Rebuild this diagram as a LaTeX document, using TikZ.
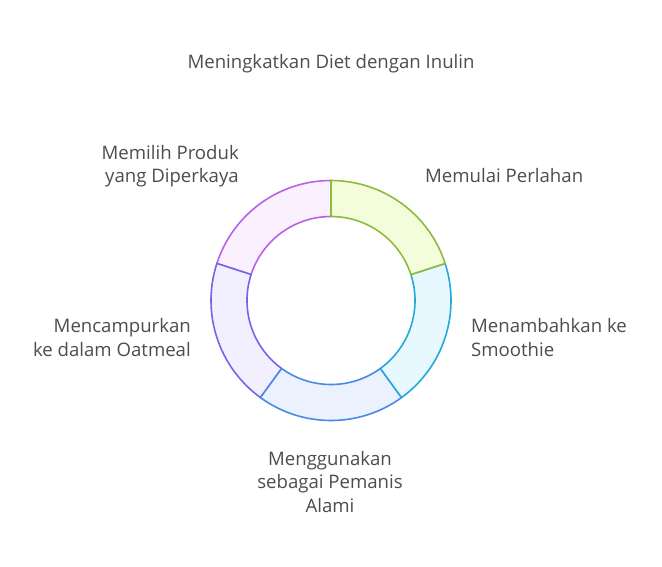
\documentclass[tikz,border=0pt]{standalone}
\usepackage{fontspec}
\setmainfont{Open Sans}
\usepackage{tikz}
\usepackage{xcolor}
\usetikzlibrary{positioning}

\definecolor{textgrey}{HTML}{4D4D4D}
\definecolor{green-d}{HTML}{8DBB3C}
\definecolor{green-l}{HTML}{F3FDDC}
\definecolor{cyan-d}{HTML}{26A9DA}
\definecolor{cyan-l}{HTML}{E7F8FE}
\definecolor{blue-d}{HTML}{4C88E8}
\definecolor{blue-l}{HTML}{EBF2FE}
\definecolor{indigo-d}{HTML}{7B63E8}
\definecolor{indigo-l}{HTML}{F2F0FE}
\definecolor{purple-d}{HTML}{B862EA}
\definecolor{purple-l}{HTML}{FBF0FE}

\begin{document}
\begin{tikzpicture}
[
x=1pt, y=1pt,
seg-a/.style={line width=1.6pt, line join=round},
text-a/.style={text=textgrey, font=\fontsize{18.6}{23.5}\selectfont, inner sep=0pt}
]
\useasboundingbox[fill=white] (0,0) rectangle (662,-566);
\coordinate (ring) at (331,-300.5);

% ring segments, drawn so that each boundary keeps the later colour
\draw[seg-a, draw=purple-d, fill=purple-l] ([shift={(162:120pt)}]ring) arc[start angle=162, end angle=90, radius=120pt]
  -- ([shift={(90:84pt)}]ring) arc[start angle=90, end angle=162, radius=84pt] -- cycle;
\draw[seg-a, draw=indigo-d, fill=indigo-l] ([shift={(234:120pt)}]ring) arc[start angle=234, end angle=162, radius=120pt]
  -- ([shift={(162:84pt)}]ring) arc[start angle=162, end angle=234, radius=84pt] -- cycle;
\draw[seg-a, draw=blue-d, fill=blue-l] ([shift={(306:120pt)}]ring) arc[start angle=306, end angle=234, radius=120pt]
  -- ([shift={(234:84pt)}]ring) arc[start angle=234, end angle=306, radius=84pt] -- cycle;
\draw[seg-a, draw=cyan-d, fill=cyan-l] ([shift={(18:120pt)}]ring) arc[start angle=18, end angle=-54, radius=120pt]
  -- ([shift={(-54:84pt)}]ring) arc[start angle=-54, end angle=18, radius=84pt] -- cycle;
\draw[seg-a, draw=green-d, fill=green-l] ([shift={(90:120pt)}]ring) arc[start angle=90, end angle=18, radius=120pt]
  -- ([shift={(18:84pt)}]ring) arc[start angle=18, end angle=90, radius=84pt] -- cycle;

% labels
\node (title)    [text-a]                       at (331,-63.5)  {Meningkatkan Diet dengan Inulin};
\node (step-1)   [text-a, anchor=west]          at (425,-176)   {Memulai Perlahan};
\node (step-2)   [text-a, anchor=west, align=left]   at (471,-337.5) {Menambahkan ke\\Smoothie};
\node (step-3)   [text-a, align=center]         at (330,-482)   {Menggunakan\\sebagai Pemanis\\Alami};
\node (step-4)   [text-a, anchor=east, align=right]  at (191,-337.5) {Mencampurkan\\ke dalam Oatmeal};
\node (step-5)   [text-a, anchor=east, align=right]  at (239,-166)   {Memilih Produk\\yang Diperkaya};
\end{tikzpicture}
\end{document}
